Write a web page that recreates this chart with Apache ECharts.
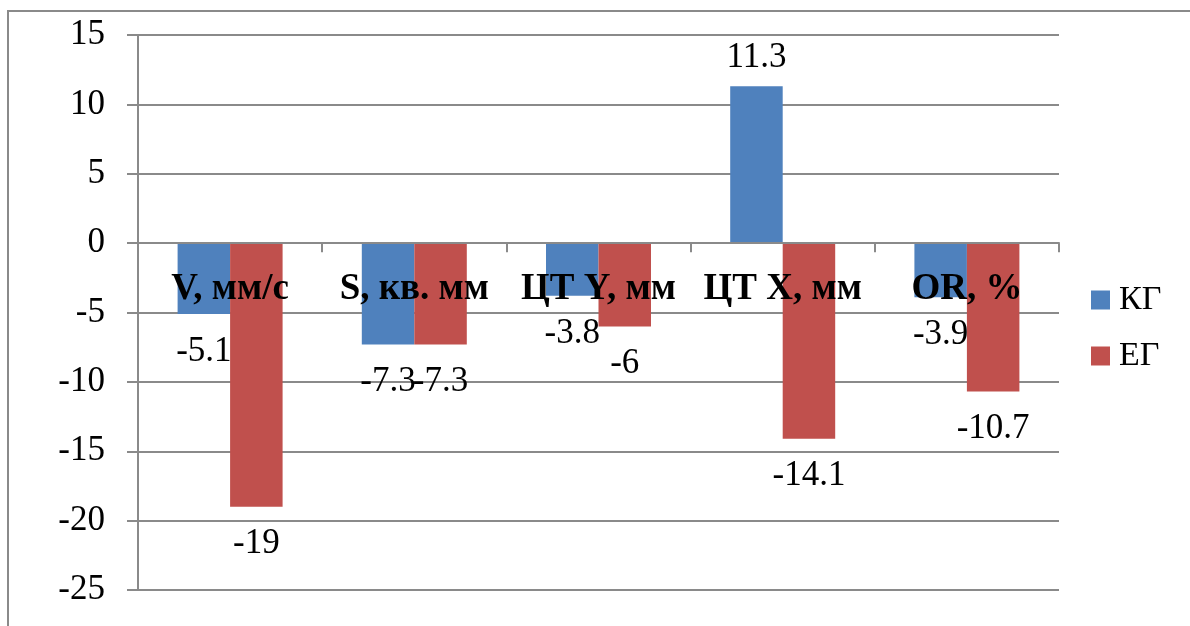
<!DOCTYPE html>
<html>
<head>
<meta charset="utf-8">
<script src="https://cdn.jsdelivr.net/npm/echarts@6/dist/echarts.min.js"></script>
<style>
html,body{margin:0;padding:0;background:#fff;}
#chart{width:1190px;height:626px;}
</style>
</head>
<body>
<div id="chart"></div>
<script>
const categories = ['V, мм/с', 'S, кв. мм', 'ЦТ Y, мм', 'ЦТ X, мм', 'OR, %'];
const seriesNames = ['КГ', 'ЕГ'];
const kgValues = [-5.1, -7.3, -3.8, 11.3, -3.9];
const egValues = [-19, -7.3, -6, -14.1, -10.7];
const yTicks = { min: -25, max: 15, interval: 5 };

const FONT = '"Liberation Serif", "Times New Roman", serif';
const colors = ['#4F81BD', '#C0504D'];

function items(vals) {
  return vals.map(v => ({
    value: v,
    label: { position: v >= 0 ? 'top' : 'bottom', distance: v >= 0 ? 11 : 20 }
  }));
}

const chart = echarts.init(document.getElementById('chart'));
chart.setOption({
  animation: false,
  backgroundColor: '#fff',
  graphic: [{
    type: 'rect',
    shape: { x: 8, y: 11, width: 1200, height: 700 },
    style: { fill: 'none', stroke: '#8a8a8a', lineWidth: 2 },
    silent: true
  }],
  grid: { left: 138, right: 131, top: 35, bottom: 36, containLabel: false, outerBoundsMode: 'none' },
  legend: {
    orient: 'vertical',
    left: 1086,
    top: 278,
    itemWidth: 19,
    itemHeight: 19,
    itemGap: 22,
    icon: 'rect',
    textStyle: { fontFamily: FONT, fontSize: 34, color: '#000', padding: [0, 0, 0, 4] },
    data: seriesNames
  },
  xAxis: {
    type: 'category',
    data: categories,
    z: 10,
    axisLine: { onZero: true, lineStyle: { color: '#8a8a8a', width: 2 } },
    axisTick: { show: true, length: 9, lineStyle: { color: '#8a8a8a', width: 2 } },
    axisLabel: { interval: 0, margin: -319, fontFamily: FONT, fontWeight: 'bold', fontSize: 37, color: '#000', hideOverlap: false }
  },
  yAxis: {
    type: 'value',
    min: yTicks.min,
    max: yTicks.max,
    interval: yTicks.interval,
    axisLine: { show: true, lineStyle: { color: '#8a8a8a', width: 2 } },
    axisTick: { show: true, length: 11, lineStyle: { color: '#8a8a8a', width: 2 } },
    axisLabel: { margin: 33, fontFamily: FONT, fontSize: 35, color: '#000' },
    splitLine: { show: true, lineStyle: { color: '#8a8a8a', width: 2 } }
  },
  series: [
    {
      name: seriesNames[0], type: 'bar', data: items(kgValues),
      itemStyle: { color: colors[0] },
      barGap: '0%', barCategoryGap: '43%',
      label: { show: true, fontFamily: FONT, fontSize: 35, color: '#000' }
    },
    {
      name: seriesNames[1], type: 'bar', data: items(egValues),
      itemStyle: { color: colors[1] },
      barGap: '0%', barCategoryGap: '43%',
      label: { show: true, fontFamily: FONT, fontSize: 35, color: '#000' }
    }
  ]
});
</script>
</body>
</html>
